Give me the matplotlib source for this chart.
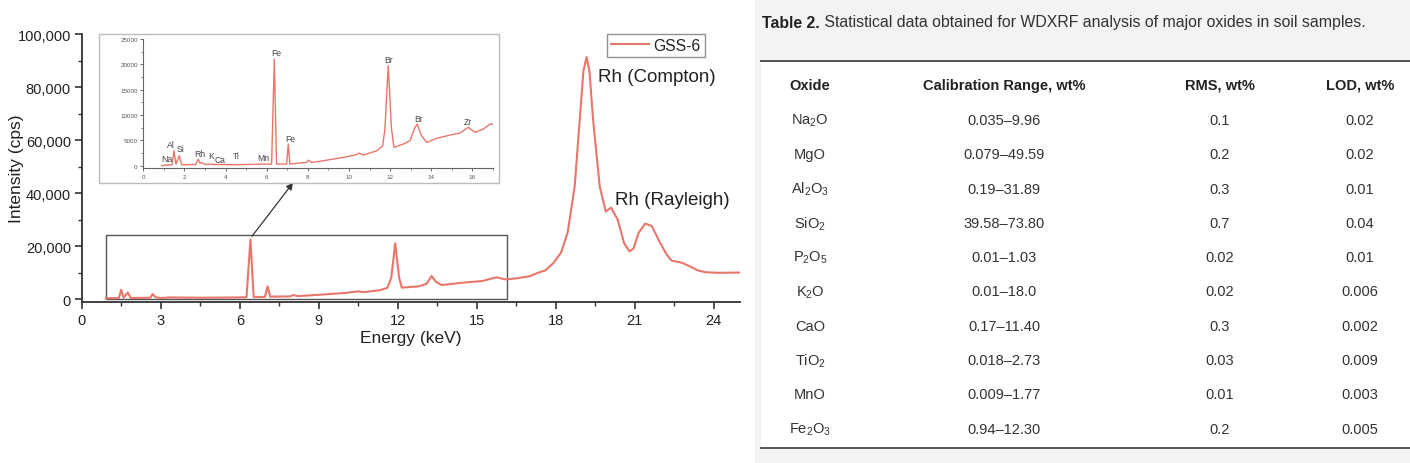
import matplotlib
matplotlib.use('Agg')
import matplotlib.pyplot as plt
from matplotlib.patches import Rectangle
from matplotlib.ticker import MultipleLocator, FuncFormatter

plt.rcParams['font.family'] = ['Liberation Sans', 'DejaVu Sans']
plt.rcParams['mathtext.default'] = 'regular'

# ---------------- data ----------------
energy = [0.91, 1.40, 1.49, 1.58, 1.74, 1.85, 2.60, 2.68, 2.80, 3.0, 3.3, 4.5, 5.9,
          6.25, 6.40, 6.52, 6.95, 7.05, 7.15, 7.9, 8.03, 8.2, 9.0, 10.0, 10.5, 10.7,
          11.3, 11.6, 11.75, 11.9, 12.05, 12.15, 12.8, 13.1, 13.28, 13.45, 13.66,
          14.5, 15.2, 15.75, 16.1, 16.5, 17.0, 17.4, 17.6, 17.9, 18.2, 18.45, 18.72,
          18.91, 19.05, 19.17, 19.28, 19.42, 19.67, 19.9, 20.1, 20.35, 20.6, 20.8,
          20.95, 21.15, 21.4, 21.65, 21.95, 22.2, 22.4, 22.8, 23.1, 23.4, 23.7, 24.2, 25.0]
intensity = [300, 400, 3500, 500, 2500, 400, 500, 1900, 700, 400, 600, 500, 600,
             700, 22500, 800, 800, 4800, 900, 1000, 1500, 1100, 1600, 2300, 2900, 2600,
             3300, 4200, 8000, 21000, 8000, 4300, 4800, 5800, 8700, 6500, 5300,
             6200, 6800, 8200, 7400, 7800, 8600, 10200, 10800, 13500, 17500, 25000, 42500,
             67500, 86000, 91300, 86000, 67500, 42500, 33000, 34500, 30000, 21000, 18000,
             19000, 25000, 28500, 27500, 21500, 17000, 14500, 13700, 12300, 10800, 10100, 9900, 10000]

inset_energy = [0.89, 1.13, 1.20, 1.40, 1.49, 1.59, 1.75, 1.86, 2.55, 2.67, 2.76, 2.85,
                3.0, 3.29, 3.4, 4.49, 5.88, 6.24, 6.37, 6.48, 6.97, 7.05, 7.13, 7.94,
                8.02, 8.18, 8.75, 9.72, 10.29, 10.5, 10.7, 11.35, 11.64, 11.75, 11.91,
                12.07, 12.19, 12.64, 12.97, 13.21, 13.32, 13.53, 13.78, 14.26, 14.91,
                15.4, 15.8, 16.13, 16.53, 16.86, 17.02]
inset_intensity = [0, 200, 100, 200, 2960, 330, 1970, 200, 250, 1300, 500, 600,
                   250, 330, 250, 200, 330, 330, 21000, 330, 330, 4280, 330, 660,
                   1100, 660, 990, 1650, 2100, 2500, 2100, 2960, 3950, 7240, 19740,
                   7240, 3620, 4280, 4935, 7570, 8220, 5920, 4600, 5400, 6050,
                   6450, 7570, 6580, 7240, 8220, 8220]

inset_labels = ["Na", "Al", "Si", "Rh", "K", "Ca", "Ti", "Mn", "Fe", "Fe", "Br", "Br", "Zr"]
inset_label_x = [1.13, 1.35, 1.80, 2.76, 3.32, 3.73, 4.54, 5.83, 6.48, 7.13, 11.94, 13.37, 15.77]
inset_label_y = [1450, 4280, 3420, 2430, 1970, 1180, 1970, 1650, 22240, 5400, 20920, 9340, 8690]

main_xticks = [0, 3, 6, 9, 12, 15, 18, 21, 24]
main_yticks = [0, 20000, 40000, 60000, 80000, 100000]
inset_xticks = [0, 2, 4, 6, 8, 10, 12, 14, 16]
inset_yticks = [0, 5000, 10000, 15000, 20000, 25000]
series_name = "GSS-6"

table_title_bold = "Table 2."
table_title_rest = " Statistical data obtained for WDXRF analysis of major oxides in soil samples."
table_headers = ["Oxide", "Calibration Range, wt%", "RMS, wt%", "LOD, wt%"]
oxides = ["Na$_2$O", "MgO", "Al$_2$O$_3$", "SiO$_2$", "P$_2$O$_5$", "K$_2$O", "CaO",
          "TiO$_2$", "MnO", "Fe$_2$O$_3$"]
cal_range = ["0.035\u20139.96", "0.079\u201349.59", "0.19\u201331.89", "39.58\u201373.80",
             "0.01\u20131.03", "0.01\u201318.0", "0.17\u201311.40", "0.018\u20132.73",
             "0.009\u20131.77", "0.94\u201312.30"]
rms = ["0.1", "0.2", "0.3", "0.7", "0.02", "0.02", "0.3", "0.03", "0.01", "0.2"]
lod = ["0.02", "0.02", "0.01", "0.04", "0.01", "0.006", "0.002", "0.009", "0.003", "0.005"]

# ---------------- figure ----------------
W, H = 1410, 464
fig = plt.figure(figsize=(W / 100, H / 100), dpi=100)
fig.patch.set_facecolor('white')

def px_axes(left, top, right, bottom):
    return [left / W, 1 - bottom / H, (right - left) / W, (bottom - top) / H]

line_color = '#e8766b'
text_color = '#222222'

ax = fig.add_axes(px_axes(82, 35, 740, 302.7))
ax.plot(energy, intensity, color=line_color, lw=1.5, label=series_name)
ax.set_xlim(0, 25)
ax.set_ylim(-1000, 100000)
ax.set_xticks(main_xticks)
ax.set_yticks(main_yticks)
ax.xaxis.set_minor_locator(MultipleLocator(1.5))
ax.yaxis.set_minor_locator(MultipleLocator(10000))
ax.yaxis.set_major_formatter(FuncFormatter(lambda v, p: f"{v:,.0f}"))
for s in ['top', 'right']:
    ax.spines[s].set_visible(False)
for s in ['left', 'bottom']:
    ax.spines[s].set_color('#333333')
    ax.spines[s].set_linewidth(1.3)
ax.tick_params(which='major', direction='out', length=5, width=1.2, color='#333333',
               labelsize=10.5, labelcolor=text_color, pad=3)
ax.tick_params(which='minor', direction='out', length=3, width=1.0, color='#333333')
ax.set_xlabel("Energy (keV)", fontsize=12.5, color=text_color, labelpad=2)
ax.set_ylabel("Intensity (cps)", fontsize=12.5, color=text_color)
ax.yaxis.set_label_coords(-0.088, 0.5)

ax.text(19.6, 84000, "Rh (Compton)", fontsize=13.5, color=text_color, ha='left', va='center')
ax.text(20.26, 37500, "Rh (Rayleigh)", fontsize=13.5, color=text_color, ha='left', va='center')

leg = ax.legend(loc='upper left', bbox_to_anchor=(0.798, 1.0), borderaxespad=0,
                fancybox=False, frameon=True, fontsize=11.3, handlelength=2.4,
                handletextpad=0.3, borderpad=0.25)
leg.get_frame().set_edgecolor('#777777')
leg.get_frame().set_linewidth(1.0)
for t in leg.get_texts():
    t.set_color(text_color)

# zoom box and arrow
ax.add_patch(Rectangle((0.91, 0), 16.14 - 0.91, 24000, fill=False, ec='#555555', lw=1.0))
ax.annotate("", xy=(8.02, 43900), xytext=(6.46, 23700),
            arrowprops=dict(arrowstyle='-|>', color='#333333', lw=0.9, mutation_scale=10,
                            shrinkA=0, shrinkB=0))

# inset frame
fig.patches.append(Rectangle((99 / W, 1 - 184 / H), 400 / W, 149 / H, transform=fig.transFigure,
                             fill=False, ec='#bbbbbb', lw=1.0, zorder=0))

axi = fig.add_axes(px_axes(143.3, 40, 492.9, 169.3))
axi.plot(inset_energy, inset_intensity, color=line_color, lw=1.0)
axi.set_xlim(0, 17)
axi.set_ylim(-500, 25000)
axi.set_xticks(inset_xticks)
axi.set_yticks(inset_yticks)
axi.xaxis.set_minor_locator(MultipleLocator(1))
axi.yaxis.set_minor_locator(MultipleLocator(2500))
for s in ['top', 'right']:
    axi.spines[s].set_visible(False)
for s in ['left', 'bottom']:
    axi.spines[s].set_color('#666666')
    axi.spines[s].set_linewidth(0.8)
axi.tick_params(which='major', direction='out', length=2.5, width=0.7, color='#666666',
                labelsize=4.5, labelcolor='#555555', pad=1.5)
axi.tick_params(which='minor', direction='out', length=1.5, width=0.6, color='#666666')
for name, lx, ly in zip(inset_labels, inset_label_x, inset_label_y):
    axi.text(lx, ly, name, fontsize=6.2, color='#444444', ha='center', va='center')

# ---------------- right panel: table ----------------
tx = fig.add_axes([755 / W, 0, (W - 755) / W, 1])
tx.set_xlim(755, W)
tx.set_ylim(H, 0)
tx.axis('off')
tx.add_patch(Rectangle((755, 0), W - 755, H, color='#f3f3f3', lw=0, zorder=0))
tx.add_patch(Rectangle((761, 62), W - 761, 387, color='white', lw=0, zorder=1))
tx.plot([761, W], [62, 62], color='#555555', lw=1.4, zorder=2)
tx.plot([761, W], [449, 449], color='#555555', lw=1.4, zorder=2)

t1 = tx.text(762, 23, table_title_bold, fontsize=11.4, fontweight='bold', color='#222222',
             ha='left', va='center', zorder=3)
fig.canvas.draw()
bb = t1.get_window_extent()
x_end = tx.transData.inverted().transform((bb.x1, bb.y0))[0]
tx.text(x_end, 23, table_title_rest, fontsize=11.4, color='#333333', ha='left', va='center', zorder=3)

col_x = [810, 1004, 1220, 1360]
for cx, h in zip(col_x, table_headers):
    tx.text(cx, 86, h, fontsize=10.5, fontweight='bold', color='#222222', ha='center', va='center', zorder=3)
row_y0, row_dy = 121, 34.3
for i, (o, c, r, l) in enumerate(zip(oxides, cal_range, rms, lod)):
    y = row_y0 + i * row_dy
    for cx, val in zip(col_x, [o, c, r, l]):
        tx.text(cx, y, val, fontsize=10.5, color='#333333', ha='center', va='center', zorder=3)

fig.savefig('out.png', dpi=100)
